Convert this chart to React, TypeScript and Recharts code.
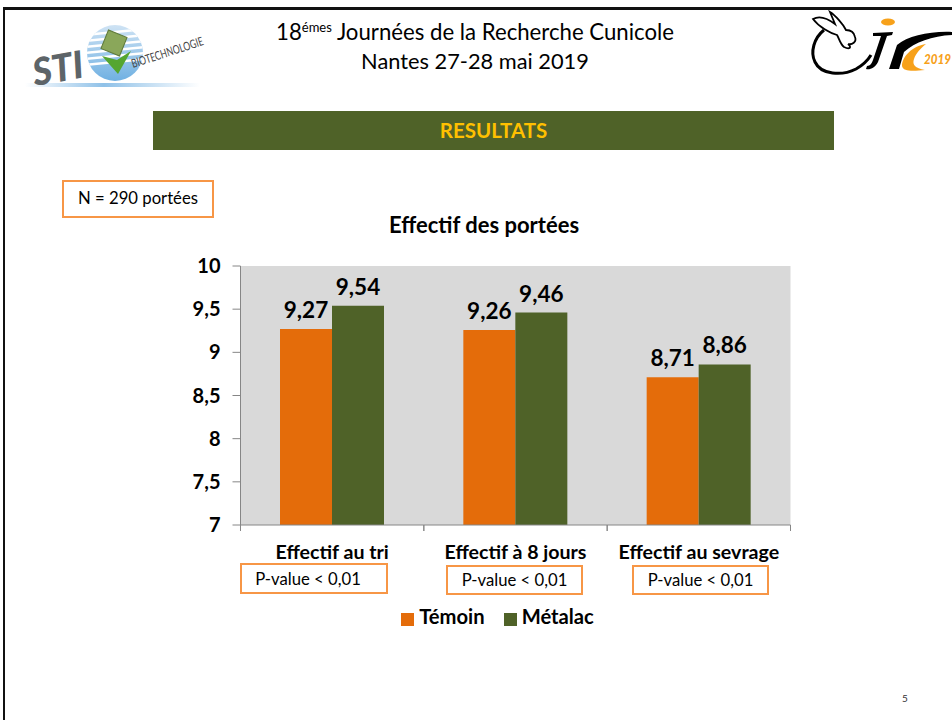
import React from 'react';
import { BarChart, Bar, XAxis, YAxis, CartesianGrid, Legend, LabelList } from 'recharts';

const categories = ['Effectif au tri', 'Effectif à 8 jours', 'Effectif au sevrage'];
const temoin = [9.27, 9.26, 8.71];
const metalac = [9.54, 9.46, 8.86];
const yTicks = [7, 7.5, 8, 8.5, 9, 9.5, 10];
const pValues = ['P-value < 0,01', 'P-value < 0,01', 'P-value < 0,01'];
const rows = categories.map((name, i) => ({ name, temoin: temoin[i], metalac: metalac[i] }));

const FONT = 'Lato, sans-serif';
const comma = (v: number) => String(v).replace('.', ',');

const XTick = (p: any) => {
  const half = 91.67;
  return (
    <g>
      <line x1={p.x - half} x2={p.x - half} y1={525} y2={531} stroke="#868686" />
      <line x1={p.x + half} x2={p.x + half} y1={525} y2={531} stroke="#868686" />
      <text x={p.x} y={559} textAnchor="middle" fontFamily={FONT} fontWeight={700} fontSize={19.6} fill="#000">
        {p.payload.value}
      </text>
    </g>
  );
};

const abs = (s: React.CSSProperties): React.CSSProperties => ({ position: 'absolute', boxSizing: 'border-box', ...s });
const centerText = (x: number, y: number, w: number, h: number, extra: React.CSSProperties = {}) =>
  abs({ left: x, top: y, width: w, height: h, lineHeight: `${h}px`, textAlign: 'center', whiteSpace: 'nowrap', ...extra });

const boxes = [
  { x: 240, y: 563, w: 148, h: 31, pad: 12 },
  { x: 446, y: 565, w: 137, h: 30, pad: 0 },
  { x: 632, y: 565, w: 137, h: 30, pad: 0 },
];

const Logos = () => (
  <svg width={952} height={100} style={{ position: 'absolute', left: 0, top: 0 }}>
    <defs>
      <linearGradient id="sw" x1="0" x2="1" y1="0" y2="0">
        <stop offset="0" stopColor="#fff" />
        <stop offset="0.45" stopColor="#8fc1e8" />
        <stop offset="1" stopColor="#fff" />
      </linearGradient>
      <linearGradient id="disc" x1="0" x2="0" y1="0" y2="1">
        <stop offset="0" stopColor="#cfe3f4" />
        <stop offset="1" stopColor="#6fb0e2" />
      </linearGradient>
      <clipPath id="discClip"><circle cx={115} cy={53} r={28} /></clipPath>
    </defs>
    <rect x={25} y={83} width={175} height={4} fill="url(#sw)" />
    <circle cx={115} cy={53} r={28} fill="url(#disc)" />
    <g clipPath="url(#discClip)" stroke="#fff" strokeWidth={2.5}>
      {[32, 38, 44, 50, 56, 62].map((y) => (
        <line key={y} x1={85} x2={145} y1={y + 3} y2={y - 3} />
      ))}
    </g>
    <rect x={104} y={33} width={20} height={20} fill="#8aa75a" stroke="#5f7a3a" transform="rotate(22 114 43)" />
    <polygon points="102,56 117,60 131,51 118,74" fill="#55a630" />
    <text x={35} y={86} fontFamily={FONT} fontWeight={900} fontStyle="italic" fontSize={38} textLength={51} lengthAdjust="spacingAndGlyphs" fill="#5d6468" transform="rotate(-10 35 86)">
      STI
    </text>
    <text x={133} y={68} fontFamily={FONT} fontSize={12} textLength={75} lengthAdjust="spacingAndGlyphs" fill="#444" transform="rotate(-18 133 68)">
      BIOTECHNOLOGIE
    </text>
    <path d="M824 30 C 814 38 810 52 815 62 C 821 75 842 76 856 69 C 863 65 868 60 871 55" fill="none" stroke="#000" strokeWidth={3} />
    <path d="M830 12 C 835 15 843 24 846 30 C 851 30 854 32 855 37 C 857 42 852 45 848 44 C 852 47 850 50 844 47 C 840 44 839 38 837 35 C 830 33 819 27 813 19 C 820 15 827 18 835 24 Z" fill="#fff" stroke="#000" strokeWidth={1.8} />
    <ellipse cx={888} cy={22} rx={7} ry={3.5} fill="#F7A11A" />
    <path d="M873 33 L 893 32 L 892 35 L 887 36 L 878 62 C 875 68 870 70 866 69 L 867 66 C 870 66 872 63 873 60 L 881 36 L 873 36 Z" fill="#000" />
    <path d="M889 69 L 897 45 C 908 36 930 31 952 32 L 952 35 C 932 36 915 42 904 52 L 899 69 Z" fill="#000" />
    <path d="M926 44 C 912 46 902 57 902 66 C 903 72 914 71 925 70 C 915 68 912 65 914 59 C 916 53 921 48 926 44 Z" fill="#F7A11A" />
    <text x={924} y={64} fontFamily={FONT} fontWeight={900} fontStyle="italic" fontSize={14} textLength={27} lengthAdjust="spacingAndGlyphs" fill="#F7A11A">2019</text>
  </svg>
);

export default function App() {
  return (
    <div style={{ position: 'absolute', left: 0, top: 0, width: 952, height: 720, overflow: 'hidden', background: '#fff', fontFamily: FONT, color: '#000' }}>
      <div style={abs({ left: 3, top: 7, width: 949, height: 713, borderTop: '3px solid #111', borderLeft: '2px solid #111' })} />
      <Logos />
      <div style={centerText(200, 18, 550, 28, { fontSize: 22.2 })}>
        18<sup style={{ fontSize: 13, lineHeight: 0 }}>émes</sup> Journées de la Recherche Cunicole
      </div>
      <div style={centerText(200, 47, 550, 28, { fontSize: 21.8 })}>Nantes 27-28 mai 2019</div>
      <div style={centerText(153, 111, 681, 39, { background: '#4F6228', color: '#FFC000', fontWeight: 700, fontSize: 20.5 })}>RESULTATS</div>
      <div style={centerText(62, 180, 152, 38, { border: '2.5px solid #F79646', lineHeight: '33px', fontSize: 16.7 })}>N = 290 portées</div>
      <div style={centerText(284, 212, 400, 26, { fontWeight: 700, fontSize: 22 })}>Effectif des portées</div>

      <BarChart
        width={952}
        height={720}
        data={rows}
        barGap={0}
        barCategoryGap={39.5}
        margin={{ top: 266, right: 161.5, bottom: 135, left: 190 }}
        style={{ position: 'absolute', left: 0, top: 0 }}
      >
        <CartesianGrid horizontal={false} vertical={false} fill="#D9D9D9" />
        <XAxis dataKey="name" height={60} axisLine={{ stroke: '#868686' }} tickLine={false} tick={<XTick />} interval={0} />
        <YAxis
          width={50.5}
          domain={[7, 10]}
          ticks={yTicks}
          interval={0}
          tickFormatter={comma}
          axisLine={{ stroke: '#868686' }}
          tickLine={{ stroke: '#868686' }}
          tickSize={8}
          tickMargin={12}
          tick={{ fontFamily: FONT, fontWeight: 700, fontSize: 20, fill: '#000' }}
        />
        <Legend
          layout="horizontal"
          verticalAlign="middle"
          align="center"
          iconType="square"
          iconSize={13}
          itemSorter={null}
          wrapperStyle={{ position: 'absolute', top: 604, left: 0, width: 1014 }}
          formatter={(v: string) => <span style={{ color: '#000', fontFamily: FONT, fontWeight: 700, fontSize: 20.2, marginLeft: 1, marginRight: 9 }}>{v}</span>}
        />
        <Bar dataKey="temoin" name="Témoin" fill="#E46C0A" isAnimationActive={false}>
          <LabelList dataKey="temoin" position="top" offset={11} formatter={comma} style={{ fontFamily: FONT, fontWeight: 700, fontSize: 22.5, fill: '#000' }} />
        </Bar>
        <Bar dataKey="metalac" name="Métalac" fill="#4F6228" isAnimationActive={false}>
          <LabelList dataKey="metalac" position="top" offset={11} formatter={comma} style={{ fontFamily: FONT, fontWeight: 700, fontSize: 22.5, fill: '#000' }} />
        </Bar>
      </BarChart>

      {boxes.map((b, i) => (
        <div key={i} style={centerText(b.x, b.y, b.w, b.h, { border: '2.5px solid #F79646', background: '#fff', lineHeight: `${b.h - 3}px`, fontSize: 16.7, paddingRight: b.pad })}>
          {pValues[i]}
        </div>
      ))}
      <div style={centerText(895, 690, 20, 16, { fontSize: 10, color: '#333' })}>5</div>
    </div>
  );
}
